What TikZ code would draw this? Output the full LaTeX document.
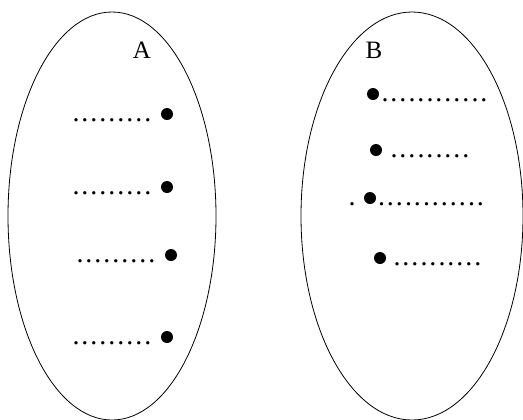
\documentclass[tikz,border=0pt]{standalone}
\usepackage{fontspec}
\setmainfont{Liberation Serif}
\usetikzlibrary{shapes.geometric}

\newcommand{\dotrow}[1]{\foreach \k in {1,...,#1}{\makebox[9bp]{.}}}

\begin{document}
\begin{tikzpicture}[x=1bp,y=-1bp]
      \tikzset{
        node distance=55bp,
        set/.style={ellipse,draw,line width=0.8bp,inner sep=0pt,minimum height=408bp},
        setname/.style={anchor=base,inner sep=0pt,font=\fontsize{25bp}{30bp}\selectfont},
        elem/.style={circle,fill,inner sep=0pt,minimum size=12bp},
        dots/.style={inner sep=0pt,yshift=-6bp,font=\fontsize{28bp}{32bp}\selectfont}
      }
      \useasboundingbox (0,0) rectangle (523,419);

      \node[set,minimum width=208bp] (A) at (112,216) {};
      \node[set,minimum width=222bp] (B) at (412,216) {};
      \node[setname] (nA) at (142,58) {A};
      \node[setname] (nB) at (374,58) {B};

      % elements of A
      \node[elem] (a1) at (167,114) {};
      \node[elem] (a2) at (167,187) {};
      \node[elem] (a3) at (171,255) {};
      \node[elem] (a4) at (167,337) {};
      \node[dots,left of=a1] (da1) {\dotrow{9}};
      \node[dots,left of=a2] (da2) {\dotrow{9}};
      \node[dots,left of=a3] (da3) {\dotrow{9}};
      \node[dots,left of=a4] (da4) {\dotrow{9}};

      % elements of B
      \node[elem] (b1) at (373,94) {};
      \node[elem] (b2) at (376,150) {};
      \node[elem] (b3) at (370,198) {};
      \node[elem] (b4) at (380,258) {};
      \node[dots,node distance=61.5bp,right of=b1] (db1) {\dotrow{12}};
      \node[dots,node distance=54bp,right of=b2] (db2) {\dotrow{9}};
      \node[dots,node distance=61bp,right of=b3] (db3) {\dotrow{12}};
      \node[dots,node distance=18bp,left of=b3] (pb3) {.};
      \node[dots,node distance=57.5bp,right of=b4] (db4) {\dotrow{10}};
\end{tikzpicture}
\end{document}
